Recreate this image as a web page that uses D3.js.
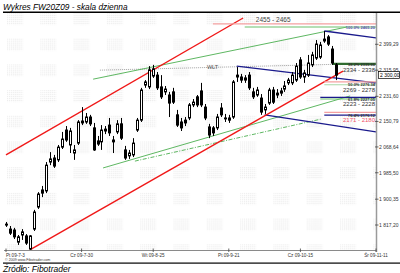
<!DOCTYPE html>
<html>
<head>
<meta charset="utf-8">
<script src="https://cdn.jsdelivr.net/npm/d3@7"></script>
<style>
    body { margin: 0; background: #fff; }
    svg { display: block; font-family: "Liberation Sans", Arial, sans-serif; }
</style>
</head>
<body>
<svg id="chart" width="400" height="273"></svg>
<script>
// ---------------- data ----------------
// daily candles FW20Z09, one per session starting 09-07-03
const opens  = [1820,1804,1801,1762,1785,1782,1740,1804,1875,1930,1927,2020,2033,2027,2068,2123,2075,2049,2081,2146,
                2149,2165,2130,2088,2085,2120,2139,2085,2117,2143,2059,2040,2043,2123,2155,2268,2262,2297,2300,2262,
                2246,2236,2246,2172,2149,2155,2162,2204,2230,2249,2197,2133,2130,2130,2194,2159,2162,2165,2294,2294,
                2284,2300,2246,2236,2226,2188,2210,2252,2236,2242,2255,2275,2275,2284,2349,2294,2300,2333,2355,2358,
                2410,2423,2384,2333];
const highs  = [1827,1814,1808,1785,1804,1788,1785,1866,1923,1943,2020,2052,2043,2075,2117,2136,2130,2075,2155,2197,
                2178,2172,2146,2104,2139,2136,2162,2104,2155,2162,2072,2059,2097,2162,2259,2284,2329,2333,2310,2300,
                2265,2246,2259,2188,2162,2165,2210,2223,2236,2275,2207,2143,2136,2175,2210,2175,2172,2284,2326,2304,
                2300,2310,2259,2262,2239,2207,2259,2262,2255,2259,2281,2291,2310,2339,2358,2317,2365,2375,2413,2407,
                2442,2429,2394,2339];
const lows   = [1811,1785,1772,1753,1769,1753,1737,1798,1869,1907,1920,2010,2001,2020,2062,2085,2049,2027,2075,2139,
                2143,2136,2056,2072,2059,2110,2104,2049,2110,2091,2027,2030,2036,2117,2149,2259,2255,2291,2252,2223,
                2236,2165,2207,2133,2120,2136,2155,2197,2197,2197,2155,2097,2104,2123,2165,2149,2146,2159,2278,2275,
                2275,2252,2223,2230,2172,2175,2204,2207,2226,2233,2246,2268,2268,2278,2288,2275,2294,2326,2349,2352,
                2404,2394,2333,2284];
const closes = [1817,1791,1779,1779,1795,1759,1782,1859,1917,1920,2010,2030,2007,2068,2094,2091,2120,2059,2149,2152,
                2165,2143,2059,2078,2123,2126,2114,2091,2143,2097,2033,2049,2081,2155,2252,2278,2317,2320,2259,2230,
                2255,2210,2213,2139,2130,2146,2204,2213,2204,2204,2162,2107,2114,2165,2172,2162,2155,2278,2300,2284,
                2291,2259,2230,2252,2181,2197,2252,2213,2242,2249,2265,2284,2300,2329,2294,2307,2339,2365,2400,2397,
                2416,2400,2339,2300];

// time axis: session index of each labelled date
const tickDays   = [0, 19, 37, 56, 74, 93];
const tickLabels = ["Pt 09-7-3", "Cz 09-7-30", "Wt 09-8-25", "Pt 09-9-21", "Cz 09-10-15", "Śr 09-11-11"];

// price axis
const priceTicks = [2399.29, 2315.95, 2231.60, 2150.79, 2068.64, 1985.50, 1900.35, 1817.20];
const lastPrice = 2300.00;

// trend lines, each [day, value, day, value]
const redLines       = [[0, 2043, 59.6, 2484], [6, 1737, 84.7, 2313]];
const greenLines     = [[21.9, 2287, 85.7, 2455], [24.4, 2001, 86.5, 2233]];
const greenDashLines = [[32.4, 2023, 79.4, 2159]];
const navyLines      = [[80, 2442, 93, 2420], [58, 2329, 93, 2275], [65, 2172, 93, 2117]];
const wltLine        = [23.6, 2316, 86.5, 2336];

// support / resistance zones
const zoneLow    = [2455, 2334, 2269, 2223, 2171];
const zoneHigh   = [2465, 2338, 2278, 2228, 2180];
const zoneStart  = [52, 82, 80, 79, 80];
const zoneLabels = ["2455 - 2465", "2334 - 2338", "2269 - 2278", "2223 - 2228", "2171 - 2180"];
const fibLabels  = ["100.0% 2465.20", "38.2% 2335.66", "50.0% 2276.34", "61.8% 2227.05", "76.4% 2176.12"];


/** Class drawing the candle chart with all the hand drawn lines */
class CandleChart {
    constructor(svgSelector) {
        this.svg = d3.select(svgSelector);

        // plot box (right side is the price axis)
        this.left = 4;
        this.right = 376;
        this.top = 13;
        this.bottom = 250;

        // session index -> x
        this.x = d3.scaleLinear()
            .domain([0, 93])
            .range([6, 376]);

        // price -> y
        this.y = d3.scaleLinear()
            .domain([1817.20, 2399.29])
            .range([225, 44.3]);

        // polish number format "2 399,29"
        this.fmt = d3.formatLocale({ decimal: ",", thousands: " ", grouping: [3], currency: ["", ""] }).format(",.2f");

        this.drawFrame();
        this.drawBackground();
        this.drawTrendLines();
        this.drawZones();
        this.drawCandles();
        this.drawAxes();
    }

    drawFrame() {
        // title + lines top and bottom
        this.svg.append("text")
            .attr("x", 3)
            .attr("y", 9.5)
            .attr("font-size", "8.3px")
            .attr("font-style", "italic")
            .attr("fill", "#000")
            .text("Wykres FW20Z09 - skala dzienna");

        this.svg.append("rect")
            .attr("x", 3).attr("y", 11.5)
            .attr("width", 397).attr("height", 1.5)
            .attr("fill", "#000");

        this.svg.append("rect")
            .attr("x", 3).attr("y", 262.5)
            .attr("width", 397).attr("height", 1.2)
            .attr("fill", "#000");

        this.svg.append("text")
            .attr("x", 3)
            .attr("y", 271.5)
            .attr("font-size", "8.5px")
            .attr("font-style", "italic")
            .attr("fill", "#000")
            .text("Źródło: Fibotrader");

        this.svg.append("text")
            .attr("x", 5)
            .attr("y", 261)
            .attr("font-size", "3.6px")
            .attr("fill", "#333")
            .text("© 2009 www.Fibotrader.com");
    }

    drawBackground() {
        // faint dotted blocks like the watermark in the original
        const defs = this.svg.append("defs");

        defs.append("pattern")
            .attr("id", "dots")
            .attr("patternUnits", "userSpaceOnUse")
            .attr("width", 2).attr("height", 2)
            .append("rect")
            .attr("width", 1).attr("height", 1)
            .attr("fill", "#ebebeb");

        defs.append("pattern")
            .attr("id", "blocks")
            .attr("patternUnits", "userSpaceOnUse")
            .attr("x", 7).attr("y", 13)
            .attr("width", 33.3).attr("height", 25.7)
            .append("rect")
            .attr("width", 16).attr("height", 12)
            .attr("fill", "url(#dots)");

        defs.append("clipPath")
            .attr("id", "plotClip")
            .append("rect")
            .attr("x", this.left).attr("y", this.top)
            .attr("width", this.right - this.left).attr("height", this.bottom - this.top);

        this.svg.append("rect")
            .attr("x", this.left).attr("y", this.top)
            .attr("width", this.right - this.left).attr("height", this.bottom - this.top)
            .attr("fill", "url(#blocks)");
    }

    drawTrendLines() {
        const g = this.svg.append("g").attr("clip-path", "url(#plotClip)");

        const seg = (sel, data, color, width, dash) => {
            sel.selectAll(null)
                .data(data)
                .join("line")
                .attr("x1", d => this.x(d[0]))
                .attr("y1", d => this.y(d[1]))
                .attr("x2", d => this.x(d[2]))
                .attr("y2", d => this.y(d[3]))
                .attr("stroke", color)
                .attr("stroke-width", width)
                .attr("stroke-dasharray", dash);
        };

        // WLT dotted line + label
        seg(g, [wltLine], "#8a8a8a", 0.8, "1,1");
        g.append("text")
            .attr("x", this.x(50.5))
            .attr("y", this.y(2320))
            .attr("font-size", "5.5px")
            .attr("fill", "#555")
            .text("WLT");

        seg(g, greenLines, "#4caf50", 0.9, null);
        seg(g, greenDashLines, "#4caf50", 0.9, "4,1.5,1,1.5");
        seg(g, navyLines, "#1a1a8c", 1.4, null);
        seg(g, redLines, "#f01818", 1.4, null);
    }

    drawZones() {
        const g = this.svg.append("g");
        const topColors = ["#f4a0a0", "#2f6b2f", "#f4a0a0", "#1a1a8c", "#f4a0a0"];
        const lowColors = ["#6cbf6c", "#2f6b2f", "#a8d8a8", "#6cbf6c", "#1a1a8c"];
        const txtColors = ["#444", "#333", "#333", "#333", "#f0506a"];

        zoneLow.forEach((low, i) => {
            const high = zoneHigh[i];
            const x0 = this.x(zoneStart[i]);

            g.append("line")
                .attr("x1", x0).attr("x2", this.right)
                .attr("y1", this.y(high)).attr("y2", this.y(high))
                .attr("stroke", topColors[i]).attr("stroke-width", 1.3);

            g.append("line")
                .attr("x1", i === 0 ? this.x(60) : x0).attr("x2", this.right)
                .attr("y1", this.y(low)).attr("y2", this.y(low))
                .attr("stroke", lowColors[i]).attr("stroke-width", 1.1);

            // tiny fibo label at the right end
            g.append("text")
                .attr("x", this.right - 1)
                .attr("y", this.y(low) + 1.5)
                .attr("text-anchor", "end")
                .attr("font-size", "4px")
                .attr("font-weight", "bold")
                .attr("fill", i === 0 ? "#5555aa" : "#333")
                .text(fibLabels[i]);

            // zone text, the first one sits above the line in the middle
            if (i === 0) {
                g.append("text")
                    .attr("x", this.x(62.8))
                    .attr("y", this.y(high) - 1.5)
                    .attr("font-size", "6.5px")
                    .attr("fill", txtColors[i])
                    .text(zoneLabels[i]);
            } else {
                g.append("text")
                    .attr("x", this.right - 1)
                    .attr("y", this.y(low) + 7)
                    .attr("text-anchor", "end")
                    .attr("font-size", "6px")
                    .attr("fill", txtColors[i])
                    .text(zoneLabels[i]);
            }
        });
    }

    drawCandles() {
        const candles = opens.map((o, i) => ({ i: i, o: o, h: highs[i], l: lows[i], c: closes[i] }));
        const g = this.svg.append("g");

        // wicks
        g.selectAll("line.wick")
            .data(candles)
            .join("line")
            .attr("class", "wick")
            .attr("x1", d => Math.round(this.x(d.i)) + 0.5)
            .attr("x2", d => Math.round(this.x(d.i)) + 0.5)
            .attr("y1", d => this.y(d.h))
            .attr("y2", d => this.y(d.l))
            .attr("stroke", "#000")
            .attr("stroke-width", 1);

        // bodies: white when up, black when down
        g.selectAll("rect.body")
            .data(candles)
            .join("rect")
            .attr("class", "body")
            .attr("x", d => Math.round(this.x(d.i)) - 0.5)
            .attr("width", 2)
            .attr("y", d => this.y(Math.max(d.o, d.c)))
            .attr("height", d => Math.max(0.8, Math.abs(this.y(d.o) - this.y(d.c))))
            .attr("fill", d => d.c >= d.o ? "#fff" : "#000")
            .attr("stroke", "#000")
            .attr("stroke-width", 1);
    }

    drawAxes() {
        const g = this.svg.append("g");

        // right price axis
        g.append("line")
            .attr("x1", this.right + 0.5).attr("x2", this.right + 0.5)
            .attr("y1", this.top).attr("y2", this.bottom + 2)
            .attr("stroke", "#9a9a9a").attr("stroke-width", 1.5);

        g.selectAll("line.ytick")
            .data(priceTicks)
            .join("line")
            .attr("class", "ytick")
            .attr("x1", this.right - 1).attr("x2", this.right + 2.5)
            .attr("y1", d => this.y(d)).attr("y2", d => this.y(d))
            .attr("stroke", "#444").attr("stroke-width", 0.8);

        g.selectAll("text.ylab")
            .data(priceTicks)
            .join("text")
            .attr("class", "ylab")
            .attr("x", this.right + 3)
            .attr("y", d => this.y(d) + 1.8)
            .attr("font-size", "5px")
            .attr("fill", "#333")
            .text(d => this.fmt(d));

        // current price box
        g.append("rect")
            .attr("x", this.right + 2.5).attr("y", this.y(lastPrice) - 3.5)
            .attr("width", 21).attr("height", 7)
            .attr("fill", "#fff").attr("stroke", "#000").attr("stroke-width", 0.7);
        g.append("text")
            .attr("x", this.right + 4)
            .attr("y", this.y(lastPrice) + 1.8)
            .attr("font-size", "5px")
            .attr("fill", "#000")
            .text(this.fmt(lastPrice));

        // bottom time axis
        g.append("line")
            .attr("x1", this.left).attr("x2", this.right + 1)
            .attr("y1", this.bottom + 0.5).attr("y2", this.bottom + 0.5)
            .attr("stroke", "#8a8a8a").attr("stroke-width", 1.2);

        g.selectAll("line.xtick")
            .data(tickDays)
            .join("line")
            .attr("class", "xtick")
            .attr("x1", d => this.x(d)).attr("x2", d => this.x(d))
            .attr("y1", this.bottom - 1.5).attr("y2", this.bottom + 2)
            .attr("stroke", "#444").attr("stroke-width", 0.8);

        g.selectAll("text.xlab")
            .data(tickDays)
            .join("text")
            .attr("class", "xlab")
            .attr("x", d => this.x(d))
            .attr("y", this.bottom + 6.5)
            .attr("text-anchor", (d, i) => i === 0 ? "start" : "middle")
            .attr("font-size", "4.6px")
            .attr("fill", "#333")
            .text((d, i) => tickLabels[i]);
    }
}

new CandleChart("#chart");
</script>
</body>
</html>
